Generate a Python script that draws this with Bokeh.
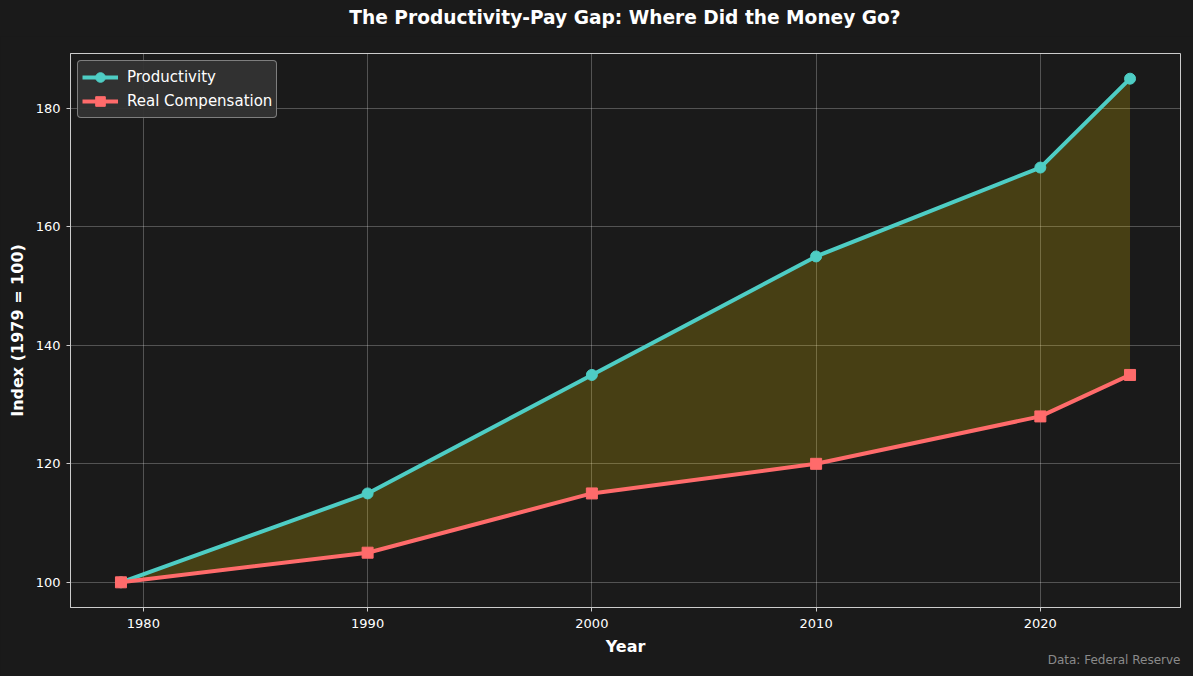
from bokeh.plotting import figure
from bokeh.layouts import column
from bokeh.models import Range1d, FixedTicker, Legend, LegendItem, Title, ColumnDataSource, Div
from bokeh.embed import file_html
from bokeh.resources import INLINE

years = [1979, 1990, 2000, 2010, 2020, 2024]
productivity = [100, 115, 135, 155, 170, 185]
compensation = [100, 105, 115, 120, 128, 135]
x_ticks = [1980, 1990, 2000, 2010, 2020]
y_ticks = [100, 120, 140, 160, 180]

BG = "#1a1a1a"
FONT = "DejaVu Sans"
TEAL = "#4ECDC4"
RED = "#FF6B6B"
TITLE_H = 36

src = ColumnDataSource(dict(year=years, prod=productivity, comp=compensation))

header = Div(text="The Productivity-Pay Gap: Where Did the Money Go?", render_as_text=True,
             width=1193, height=TITLE_H, margin=0,
             styles={"background-color": BG, "color": "white", "font-family": FONT,
                     "font-size": "18.6px", "font-weight": "bold", "line-height": f"{TITLE_H}px",
                     "text-align": "center", "padding-left": "57px", "box-sizing": "border-box",
                     "white-space": "nowrap"})

p = figure(width=1193, height=676 - TITLE_H, output_backend="svg", toolbar_location=None,
           x_range=Range1d(1976.75, 2026.25), y_range=Range1d(95.75, 189.25),
           min_border_left=70, min_border_right=13, min_border_top=53 - TITLE_H, min_border_bottom=69,
           background_fill_color=BG, border_fill_color=BG, margin=0)

p.varea(x="year", y1="comp", y2="prod", source=src, fill_color="#FFD700", fill_alpha=0.2)

l1 = p.line("year", "prod", source=src, line_color=TEAL, line_width=4)
s1 = p.scatter("year", "prod", source=src, marker="circle", size=11, fill_color=TEAL, line_color=TEAL)
l2 = p.line("year", "comp", source=src, line_color=RED, line_width=4)
s2 = p.scatter("year", "comp", source=src, marker="square", size=11, fill_color=RED, line_color=RED)

legend = Legend(items=[LegendItem(label="Productivity", renderers=[l1, s1]),
                       LegendItem(label="Real Compensation", renderers=[l2, s2])],
                location="top_left", margin=7, padding=4, spacing=-2,
                label_text_font=FONT, label_text_font_size="15px", label_text_color="white",
                background_fill_color="#333333", background_fill_alpha=0.95,
                border_line_color="#cccccc", border_line_width=1, border_radius=4,
                glyph_width=36, glyph_height=24, label_standoff=9)
p.add_layout(legend)

for ax in (p.xaxis[0], p.yaxis[0]):
    ax.major_label_text_font = FONT
    ax.major_label_text_font_size = "13px"
    ax.major_label_text_color = "white"
    ax.axis_label_text_font = FONT
    ax.axis_label_text_font_size = "16px"
    ax.axis_label_text_font_style = "bold"
    ax.axis_label_text_color = "white"
    ax.axis_line_color = "#cccccc"
    ax.major_tick_line_color = "#cccccc"
    ax.major_tick_out = 4
    ax.major_tick_in = 0
    ax.minor_tick_line_color = None

p.xaxis.axis_label = "Year"
p.yaxis.axis_label = "Index (1979 = 100)"
p.xaxis.ticker = FixedTicker(ticks=x_ticks)
p.yaxis.ticker = FixedTicker(ticks=y_ticks)
p.xaxis.major_label_standoff = 7
p.yaxis.major_label_standoff = 6
p.xaxis.axis_label_standoff = 6
p.yaxis.axis_label_standoff = 6

p.grid.grid_line_color = "white"
p.grid.grid_line_alpha = 0.25
p.outline_line_color = "#cccccc"
p.outline_line_alpha = 1

note = Title(text="Data: Federal Reserve", align="right", text_color="#8a8a8a",
             text_font=FONT, text_font_size="12px", text_font_style="normal", standoff=-15)
p.add_layout(note, "below")

layout = column(header, p, spacing=0, margin=0, styles={"background-color": BG})

open("out.html", "w").write(file_html(layout, INLINE))
